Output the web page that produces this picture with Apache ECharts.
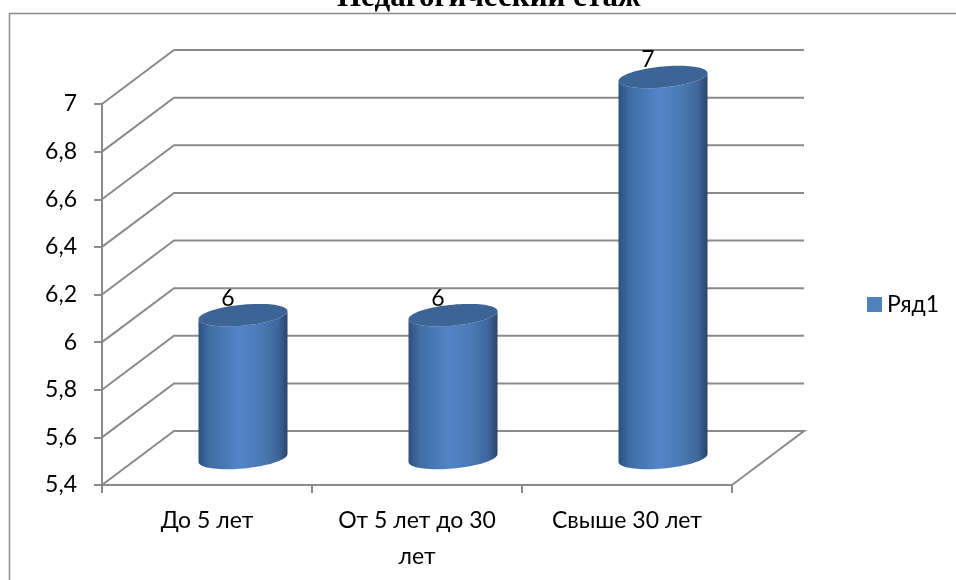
<!DOCTYPE html>
<html><head><meta charset="utf-8">
<style>html,body{margin:0;padding:0;background:#fff}#c{width:956px;height:580px}</style>
<script src="https://cdn.jsdelivr.net/npm/echarts@6/dist/echarts.min.js"></script>
</head><body><div id="c"></div>
<script>
const titleText = 'Педагогический стаж';
const seriesName = 'Ряд1';
const categories = ['До 5 лет', 'От 5 лет до 30\nлет', 'Свыше 30 лет'];
const values = [6, 6, 7];
const valueTicks = [5.4, 5.6, 5.8, 6, 6.2, 6.4, 6.6, 6.8, 7];

const DX = 72, DY = -54, GRID = '#8a8a8a', FONT = 'Lato', FS = 23;
const chart = echarts.init(document.getElementById('c'), null, {renderer: 'canvas'});

function ellipsePoint(cx, cy, t) {
  const a = 44.5, b = 10.5, k = 4;
  return [cx + a * Math.cos(t), cy + b * Math.sin(t) - k * Math.cos(t)];
}

function renderWall(params, api) {
  const cs = params.coordSys;
  const v = api.value(0);
  const y = api.coord([0, v])[1];
  const x0 = cs.x, x1 = cs.x + cs.width;
  const pts = [[x0, y], [x0 + DX, y + DY], [x1 + DX, y + DY]];
  if (v === valueTicks[0]) pts.push([x1, y]);
  return {type: 'polyline', shape: {points: pts}, style: {stroke: GRID, lineWidth: 2, fill: null}, silent: true};
}

function renderCylinder(params, api) {
  const idx = api.value(0), v = api.value(1);
  const top = api.coord([idx, v]);
  const base = api.coord([idx, valueTicks[0]]);
  const cx = top[0] + DX / 2;
  const ty = top[1] + DY / 2, by = base[1] + DY / 2;
  const poly = [];
  for (let i = 0; i <= 40; i++) poly.push(ellipsePoint(cx, by, Math.PI * i / 40));
  for (let i = 0; i <= 40; i++) poly.push(ellipsePoint(cx, ty, Math.PI * (40 - i) / 40));
  const cap = [];
  for (let i = 0; i < 80; i++) cap.push(ellipsePoint(cx, ty, 2 * Math.PI * i / 80));
  const grad = new echarts.graphic.LinearGradient(0, 0, 1, 0, [
    {offset: 0, color: '#2f5080'},
    {offset: 0.12, color: '#3f6ca3'},
    {offset: 0.46, color: '#5285c8'},
    {offset: 0.72, color: '#4a79b3'},
    {offset: 0.9, color: '#3c659b'},
    {offset: 1, color: '#2a4468'}
  ]);
  return {type: 'group', children: [
    {type: 'text', style: {text: String(v), x: cx - 15, y: ty - 17, fill: '#000', font: FS + 'px ' + FONT, align: 'center', verticalAlign: 'middle'}},
    {type: 'polygon', shape: {points: poly}, style: {fill: grad}},
    {type: 'polygon', shape: {points: cap}, style: {fill: '#3c6595'}}
  ]};
}

chart.setOption({
  animation: false,
  backgroundColor: '#fff',
  title: {text: titleText, left: 332, top: -23, padding: 5,
    textStyle: {fontFamily: 'Liberation Serif', fontWeight: 'bold', fontSize: 31, color: '#000'}},
  graphic: [{type: 'rect', shape: {x: 9.5, y: 13.5, width: 1000, height: 600},
    style: {fill: null, stroke: GRID, lineWidth: 1.5}, silent: true, z: -1}],
  legend: {data: [seriesName], left: 862, top: 288, itemWidth: 15, itemHeight: 15, itemGap: 8,
    icon: 'rect', textStyle: {fontFamily: FONT, fontSize: FS, color: '#000'}},
  grid: {left: 102, right: 224, top: 104, height: 381, containLabel: false},
  xAxis: {type: 'category', data: categories, boundaryGap: true,
    axisLine: {onZero: false, lineStyle: {color: GRID, width: 2}},
    axisTick: {show: true, length: 8, alignWithLabel: false, lineStyle: {color: GRID, width: 2}},
    axisLabel: {interval: 0, color: '#000', fontFamily: FONT, fontSize: FS, margin: 18, lineHeight: 36}},
  yAxis: {type: 'value', min: 5.4, max: 7, interval: 0.2,
    axisLine: {show: true, lineStyle: {color: GRID, width: 2}},
    axisTick: {show: true, length: 8, lineStyle: {color: GRID, width: 2}},
    splitLine: {show: false},
    axisLabel: {color: '#000', fontFamily: FONT, fontSize: FS, margin: 25,
      formatter: v => String(Math.round(v * 10) / 10).replace('.', ',')}},
  series: [
    {type: 'custom', name: 'walls', renderItem: renderWall, data: valueTicks.map(v => [v]),
      encode: {y: 0}, z: 1, silent: true, clip: false},
    {type: 'custom', name: seriesName, renderItem: renderCylinder,
      data: values.map((v, i) => [i, v]), encode: {x: 0, y: 1}, z: 3, clip: false,
      itemStyle: {color: '#4f81bd'}}
  ]
});
</script></body></html>
